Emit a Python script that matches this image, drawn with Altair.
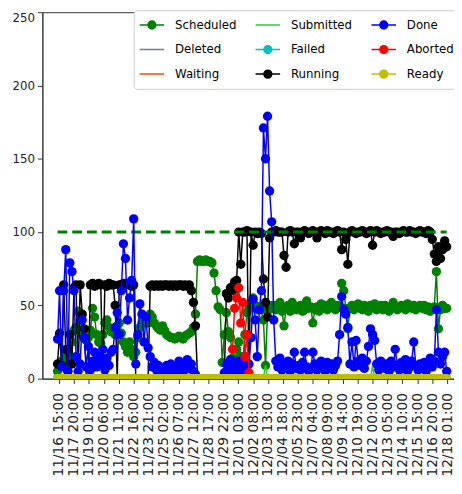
import altair as alt
import pandas as pd

# ---------------- data ----------------
# sampling grid: every 4 h from 11/16 12:00 to 12/18 00:00,
# expressed as hours after 11/16 15:00 (first tick)
day_hours = [0, 4, 8, 12, 16, 20]
hours = [hh - 15 for hh in (12, 16, 20)]
for d in range(1, 32):
    hours += [24 * d + hh - 15 for hh in day_hours]
hours.append(24 * 32 - 15)

tick_step = 29
tick_labels = ["11/16 15:00", "11/17 20:00", "11/19 01:00", "11/20 06:00", "11/21 11:00",
               "11/22 16:00", "11/23 21:00", "11/25 02:00", "11/26 07:00", "11/27 12:00",
               "11/28 17:00", "11/29 22:00", "12/01 03:00", "12/02 08:00", "12/03 13:00",
               "12/04 18:00", "12/05 23:00", "12/07 04:00", "12/08 09:00", "12/09 14:00",
               "12/10 19:00", "12/12 00:00", "12/13 05:00", "12/14 10:00", "12/15 15:00",
               "12/16 20:00", "12/18 01:00"]
y_ticks = [0, 50, 100, 150, 200, 250]
capacity = 100

running_days = [
    [10, 31, 9],
    [64, 20, 5, 30, 10, 62], [64, 0, 64, 44, 34, 0], [0, 64, 65, 63, 64, 65],
    [64, 0, 64, 63, 65, 64], [64, 50, 0, 64, 64, 65], [64, 65, 64, 63, 64, 0],
    [0, 0, 0, 0, 0, 0], [63, 64, 63, 64, 63, 64], [63, 64, 64, 63, 64, 63],
    [64, 63, 64, 64, 63, 64], [63, 64, 60, 52, 36, 0], [0, 0, 0, 0, 0, 0],
    [0, 0, 0, 0, 0, 0], [0, 58, 55, 62, 60, 66], [67, 100, 78, 100, 100, 101],
    [0, 100, 91, 100, 99, 100], [99, 68, 52, 42, 96, 100], [100, 101, 100, 100, 100, 84],
    [76, 100, 101, 100, 92, 100], [100, 96, 100, 101, 100, 99], [100, 101, 100, 96, 100, 101],
    [100, 99, 101, 100, 100, 99], [100, 101, 100, 88, 100, 95], [78, 100, 101, 100, 99, 100],
    [100, 101, 100, 99, 100, 101], [91, 100, 101, 100, 99, 100], [100, 101, 100, 100, 97, 100],
    [100, 99, 100, 101, 100, 100], [101, 100, 100, 99, 100, 101], [100, 100, 99, 101, 100, 95],
    [85, 80, 90, 82, 88, 94],
    [90],
]
scheduled_days = [
    [5, 8, 12],
    [10, 15, 20, 12, 25, 33], [35, 46, 40, 30, 27, 26], [28, 33, 48, 42, 30, 25],
    [24, 30, 38, 40, 35, 32], [33, 30, 36, 38, 31, 25], [22, 18, 25, 20, 15, 18],
    [28, 35, 38, 42, 40, 38], [44, 42, 38, 36, 34, 33], [36, 33, 30, 29, 28, 28],
    [27, 28, 29, 28, 27, 29], [30, 31, 32, 35, 44, 80], [81, 80, 80, 81, 80, 80],
    [79, 72, 60, 49, 47, 11], [30, 45, 32, 28, 14, 5], [20, 25, 15, 10, 30, 45],
    [48, 52, 55, 50, 47, 49], [47, 40, 9, 46, 50, 48], [50, 47, 49, 52, 46, 36],
    [48, 50, 46, 52, 48, 47], [49, 50, 46, 47, 53, 48], [49, 38, 47, 49, 46, 51],
    [48, 50, 47, 49, 52, 48], [47, 50, 49, 65, 60, 48], [34, 48, 50, 47, 49, 51],
    [48, 47, 50, 49, 46, 50], [49, 51, 47, 48, 50, 47], [50, 48, 46, 49, 52, 48],
    [47, 49, 50, 48, 47, 51], [49, 48, 50, 47, 49, 50], [48, 50, 47, 49, 46, 48],
    [49, 73, 34, 47, 50, 48],
    [48],
]
done_days = [
    [27, 60, 8],
    [60, 88, 5, 79, 73, 60], [15, 5, 10, 40, 28, 8], [22, 6, 12, 18, 8, 15],
    [10, 20, 6, 14, 9, 18], [20, 35, 45, 30, 60, 92], [82, 40, 55, 67, 109, 10],
    [30, 51, 44, 25, 42, 21], [15, 8, 11, 6, 9, 5], [7, 4, 9, 5, 10, 6],
    [8, 5, 12, 6, 4, 9], [13, 7, 10, 5, 3, 0], [0, 0, 0, 0, 0, 0],
    [0, 0, 0, 0, 0, 0], [4, 10, 6, 13, 8, 5], [7, 12, 5, 9, 15, 6],
    [10, 28, 54, 40, 15, 47], [60, 171, 150, 179, 128, 107], [40, 12, 8, 14, 6, 10],
    [8, 12, 5, 10, 18, 7], [9, 6, 11, 18, 8, 5], [7, 18, 10, 6, 9, 12],
    [8, 5, 11, 7, 10, 6], [9, 12, 30, 56, 47, 44], [35, 10, 25, 8, 26, 12],
    [9, 14, 7, 12, 22, 34], [30, 26, 10, 6, 12, 8], [7, 10, 5, 12, 8, 20],
    [9, 6, 11, 7, 13, 5], [8, 12, 25, 9, 6, 10], [7, 11, 5, 9, 14, 8],
    [12, 47, 18, 10, 15, 18],
    [5],
]
# Aborted only exists 11/30 16:00 .. 12/02 00:00
aborted_times = [24 * 14 + 16 - 15, 24 * 14 + 20 - 15] + [24 * 15 + hh - 15 for hh in day_hours] + [24 * 16 - 15]
aborted_vals = [20, 48, 55, 62, 38, 52, 15, 30, 4]
# Submitted: zero except two small spikes
submitted_spike_times = [24 * 17 + 8 - 15, 24 * 26 - 15]
submitted_spike_vals = [9, 9]

running = [v for day in running_days for v in day]
scheduled = [v for day in scheduled_days for v in day]
done = [v for day in done_days for v in day]
assert len(running) == len(scheduled) == len(done) == len(hours)

submitted = [0] * len(hours)
for t, v in zip(submitted_spike_times, submitted_spike_vals):
    submitted[hours.index(t)] = v
# these states stay at zero over the whole period
deleted = [0] * len(hours)
waiting = [0] * len(hours)
failed = [0] * len(hours)
ready = [0] * len(hours)

series_values = {
    "Scheduled": (hours, scheduled),
    "Deleted": (hours, deleted),
    "Waiting": (hours, waiting),
    "Submitted": (hours, submitted),
    "Failed": (hours, failed),
    "Running": (hours, running),
    "Done": (hours, done),
    "Aborted": (aborted_times, aborted_vals),
    "Ready": (hours, ready),
}

# ---------------- styles ----------------
colors = {
    "Scheduled": "#008000", "Deleted": "#708090", "Waiting": "#ff4500",
    "Submitted": "#32cd32", "Failed": "#00bfbf", "Running": "#000000",
    "Done": "#0000ff", "Aborted": "#ff0000", "Ready": "#bfbf00",
}
with_marker = {"Scheduled": True, "Deleted": False, "Waiting": False, "Submitted": False,
               "Failed": True, "Running": True, "Done": True, "Aborted": True, "Ready": True}
plot_order = ["Scheduled", "Deleted", "Waiting", "Submitted", "Failed", "Running", "Done", "Aborted", "Ready"]
legend_order = plot_order  # legend fills column by column
DOT_LINE = "M-1,0L1,0M-0.32,0A0.32,0.32,0,1,0,0.32,0A0.32,0.32,0,1,0,-0.32,0Z"
PLAIN_LINE = "M-1,0L1,0"

rows = []
for name in plot_order:
    ts, vs = series_values[name]
    for t, v in zip(ts, vs):
        rows.append({"h": t, "v": v, "series": name})
df = pd.DataFrame(rows)

FONT = "DejaVu Sans"
label_expr = "[" + ",".join(f"'{s}'" for s in tick_labels) + f"][round(datum.value / {tick_step})]"

x_enc = alt.X("h:Q",
              scale=alt.Scale(domain=[-32.4, 767.2], nice=False, zero=False),
              axis=alt.Axis(values=[i * tick_step for i in range(len(tick_labels))],
                            labelExpr=label_expr, labelAngle=270, labelFont=FONT,
                            labelFontSize=14, labelColor="#222222", labelOverlap=False,
                            labelPadding=9, tickSize=5, tickColor="#333333",
                            domainColor="#333333", grid=False, title=None))
y_enc = alt.Y("v:Q",
              scale=alt.Scale(domain=[0, 250], nice=False),
              axis=alt.Axis(values=y_ticks, labelFont=FONT, labelFontSize=12,
                            labelColor="#222222", labelPadding=3, tickSize=5,
                            labelBaseline={"condition": {"test": "datum.value == 250", "value": "top"},
                                           "value": "middle"},
                            tickColor="#333333", domainColor="#333333", grid=False,
                            title=None))

base = alt.Chart(df)
layers = []
for name in plot_order:
    sub = base.transform_filter(alt.datum.series == name)
    layers.append(sub.mark_line(strokeWidth=1.5, clip=True, color=colors[name]).encode(x=x_enc, y=y_enc))
    if with_marker[name]:
        layers.append(sub.mark_point(filled=True, size=90, opacity=1, clip=True,
                                     color=colors[name]).encode(x=x_enc, y=y_enc))
    if name == "Running":
        cap_df = pd.DataFrame({"h": [hours[0], hours[-1]], "v": [capacity, capacity]})
        layers.append(alt.Chart(cap_df).mark_line(color="#008000", strokeWidth=3,
                                                  strokeDash=[10, 5], clip=True)
                      .encode(x=x_enc, y=y_enc))

leg = alt.Legend(title=None, orient="none", legendX=93, legendY=-2, columns=3,
                 columnPadding=18, rowPadding=5, symbolSize=625, symbolStrokeWidth=1.5,
                 symbolOpacity=1,
                 labelFont=FONT, labelFontSize=12, labelColor="#000000", labelOffset=10,
                 fillColor="white", strokeColor="#cccccc", cornerRadius=3, padding=5,
                 clipHeight=20)
legend_layer = alt.Chart(pd.DataFrame({"series": legend_order})).transform_filter("false").mark_point(
    filled=True, size=81, opacity=1).encode(
    color=alt.Color("series:N", scale=alt.Scale(domain=legend_order, range=[colors[s] for s in legend_order]), legend=leg),
    stroke=alt.Stroke("series:N", scale=alt.Scale(domain=legend_order, range=[colors[s] for s in legend_order]), legend=leg),
    shape=alt.Shape("series:N", scale=alt.Scale(domain=legend_order,
                    range=[DOT_LINE if with_marker[s] else PLAIN_LINE for s in legend_order]), legend=leg),
)

chart = alt.layer(*layers, legend_layer).properties(
    width=419, height=373,
    padding={"left": 35, "top": 0, "right": 0, "bottom": 105},
    autosize=alt.AutoSizeParams(type="none"),
).configure_view(stroke="#333333", strokeWidth=1)

chart.save("out.html", embed_options={"renderer": "svg", "actions": False})
